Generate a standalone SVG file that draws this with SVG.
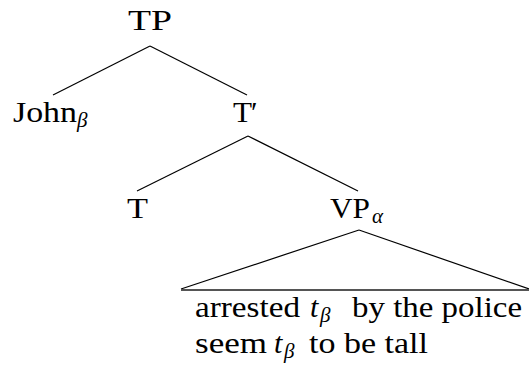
<svg xmlns="http://www.w3.org/2000/svg" width="529" height="372" viewBox="0 0 529 372">
<style>
.t{font-family:'Liberation Serif','DejaVu Serif',serif;font-size:30px;fill:#000}
.s{font-family:'Liberation Serif','DejaVu Serif',serif;font-size:21px;font-style:italic;fill:#000}
.i{font-style:italic}
.e{stroke:#000;stroke-width:1.2;fill:none}
.b{stroke:#555;stroke-width:2;fill:none}
</style>
<rect width="529" height="372" fill="#fff"/>
<g id="connectors">
<line class="e" x1="150" y1="46" x2="53" y2="95"/>
<line class="e" x1="150" y1="46" x2="247" y2="95"/>
<line class="e" x1="248" y1="136" x2="137" y2="191"/>
<line class="e" x1="248" y1="136" x2="358" y2="191"/>
<line class="e" x1="359" y1="230" x2="181" y2="289"/>
<line class="e" x1="359" y1="230" x2="529" y2="289"/>
<line class="b" x1="181" y1="290" x2="529" y2="290"/>
</g>
<g id="TP"><text class="t" x="128" y="30" textLength="44" lengthAdjust="spacingAndGlyphs">TP</text></g>
<g id="John"><text class="t" x="13" y="122" textLength="64" lengthAdjust="spacingAndGlyphs">John</text><text class="s" x="77" y="127">β</text></g>
<g id="Tbar"><text class="t" x="233" y="122" textLength="19" lengthAdjust="spacingAndGlyphs">T</text><text class="t" x="251" y="122">′</text></g>
<g id="T"><text class="t" x="127" y="218" textLength="21" lengthAdjust="spacingAndGlyphs">T</text></g>
<g id="VP"><text class="t" x="330" y="218" textLength="40" lengthAdjust="spacingAndGlyphs">VP</text><text class="s" x="372" y="223">α</text></g>
<g id="yield">
<text class="t" x="195" y="317" textLength="105" lengthAdjust="spacingAndGlyphs">arrested</text>
<text class="t i" x="310" y="317">t</text><text class="s" x="320" y="322">β</text>
<text class="t" x="352" y="317" textLength="170" lengthAdjust="spacingAndGlyphs">by the police</text>
<text class="t" x="195" y="353" textLength="72" lengthAdjust="spacingAndGlyphs">seem</text>
<text class="t i" x="274" y="353">t</text><text class="s" x="284" y="358">β</text>
<text class="t" x="309" y="353" textLength="119" lengthAdjust="spacingAndGlyphs">to be tall</text>
</g>
</svg>
